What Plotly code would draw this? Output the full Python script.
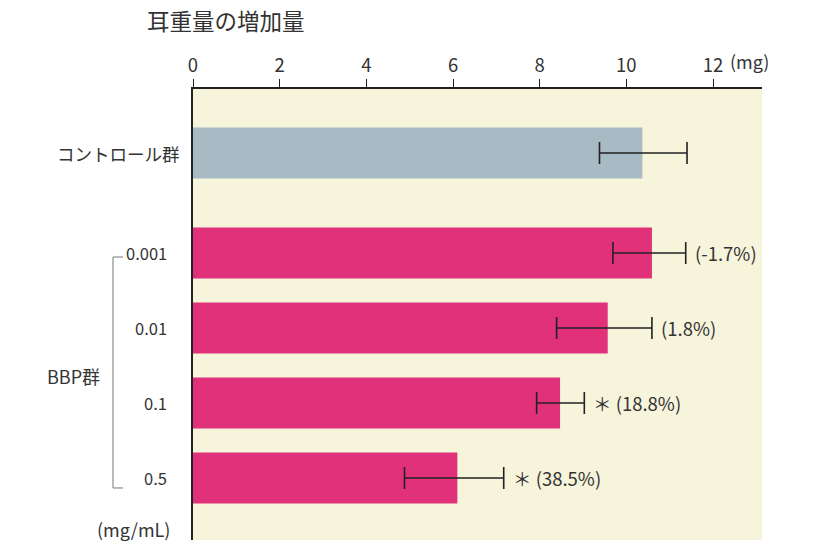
import plotly.graph_objects as go

# ---- data ----
groups = ["コントロール群", "0.001", "0.01", "0.1", "0.5"]
values = [10.37, 10.59, 9.57, 8.47, 6.10]
err_plus = [1.03, 0.78, 1.02, 0.56, 1.07]
err_minus = [0.99, 0.90, 1.18, 0.54, 1.22]
pct_labels = ["", "(-1.7%)", "(1.8%)", "(18.8%)", "(38.5%)"]
sig_marks = ["", "", "", "＊", "＊"]
x_ticks = [0, 2, 4, 6, 8, 10, 12]

# ---- layout helpers ----
positions = [4.333, 3, 2, 1, 0]
bar_colors = ["#a8bac4", "#e0317a", "#e0317a", "#e0317a", "#e0317a"]
FONT = "Noto Sans CJK JP"
TXT = "#333333"
W, H = 818, 549
L, R, T, B = 193, 56, 89, 9
plot_w = W - L - R

fig = go.Figure()
fig.add_trace(go.Bar(
    x=values, y=positions, orientation="h",
    marker=dict(color=bar_colors, line=dict(width=0)),
    width=0.68,
    error_x=dict(type="data", symmetric=False, array=err_plus, arrayminus=err_minus,
                 color="#222222", thickness=1.6, width=11),
    hoverinfo="skip",
))

annotations = []
# category labels
for i, (g, p) in enumerate(zip(groups, positions)):
    annotations.append(dict(
        x=0, xref="paper", y=p, yref="y", text=g, showarrow=False,
        xanchor="right", yanchor="middle",
        xshift=-11 if i == 0 else -24,
        font=dict(family=FONT, size=17.5 if i == 0 else 16.5, color=TXT)))
# percent / significance labels
for v, ep, pct, s, p in zip(values, err_plus, pct_labels, sig_marks, positions):
    if not pct:
        continue
    txt = (s + " " + pct) if s else pct
    annotations.append(dict(
        x=v + ep, xref="x", y=p, yref="y", text=txt, showarrow=False,
        xanchor="left", yanchor="middle", xshift=7,
        font=dict(family=FONT, size=18.5, color=TXT)))

# BBP group label
annotations.append(dict(
    x=(102 - L) / plot_w, xref="paper", y=(478 - 376) / 75, yref="y",
    text="BBP群", showarrow=False, xanchor="right", yanchor="middle",
    font=dict(family=FONT, size=18, color=TXT)))
# units
annotations.append(dict(
    x=(172 - L) / plot_w, xref="paper", y=(478 - 529) / 75, yref="y",
    text="(mg/mL)", showarrow=False, xanchor="right", yanchor="middle",
    font=dict(family=FONT, size=18, color=TXT)))
annotations.append(dict(
    x=12, xref="x", y=1, yref="paper", text="(mg)", showarrow=False,
    xanchor="left", yanchor="bottom", xshift=15, yshift=13,
    font=dict(family=FONT, size=18, color=TXT)))

# bracket
bx = (113 - L) / plot_w
bx2 = (123 - L) / plot_w
y_top = (478 - 257) / 75
y_bot = (478 - 488) / 75
shapes = [
    dict(type="line", xref="paper", yref="y", x0=bx, x1=bx, y0=y_top, y1=y_bot,
         line=dict(color="#777777", width=1)),
    dict(type="line", xref="paper", yref="y", x0=bx, x1=bx2, y0=y_top, y1=y_top,
         line=dict(color="#777777", width=1)),
    dict(type="line", xref="paper", yref="y", x0=bx, x1=bx2, y0=y_bot, y1=y_bot,
         line=dict(color="#777777", width=1)),
]

fig.update_layout(
    width=W, height=H,
    margin=dict(l=L, r=R, t=T, b=B),
    paper_bgcolor="white",
    plot_bgcolor="#f7f4dc",
    showlegend=False,
    title=dict(text="耳重量の増加量", x=147 / W, xanchor="left", y=1 - 22 / H, yanchor="middle",
               font=dict(family=FONT, size=22.5, color=TXT)),
    xaxis=dict(
        side="top", range=[0, 13.13], tickvals=x_ticks,
        ticktext=[str(t) for t in x_ticks],
        ticks="outside", ticklen=8, tickwidth=1.2, tickcolor="#222222",
        showline=True, linecolor="#222222", linewidth=1.5,
        showgrid=False, zeroline=False,
        tickfont=dict(family=FONT, size=18.5, color=TXT),
        fixedrange=True,
    ),
    yaxis=dict(
        range=[-0.827, 5.187], showticklabels=False, ticks="",
        showline=True, linecolor="#222222", linewidth=1.5,
        showgrid=False, zeroline=False, fixedrange=True,
    ),
    annotations=annotations,
    shapes=shapes,
)

fig.write_html("out.html")
